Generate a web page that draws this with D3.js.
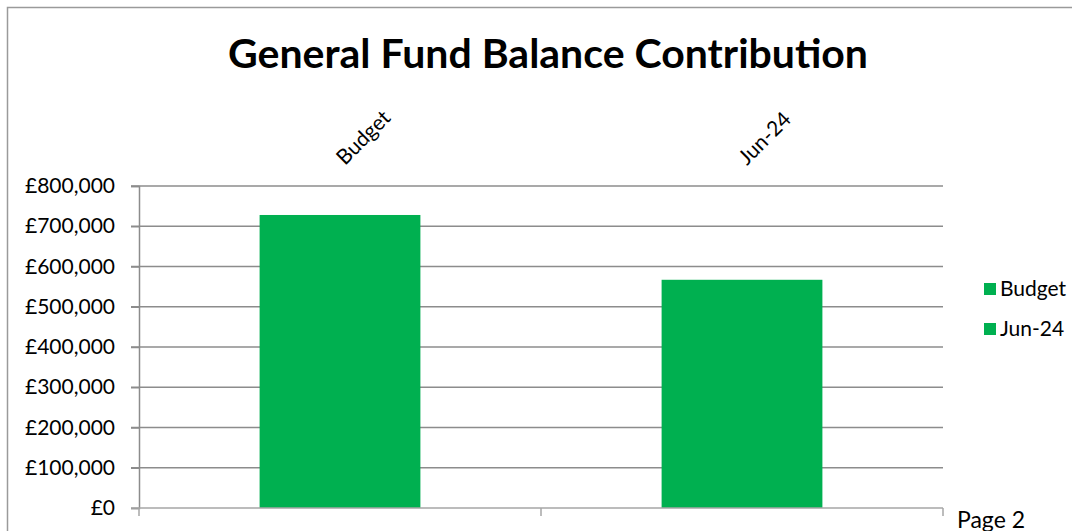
<!DOCTYPE html>
<html>
<head>
<meta charset="utf-8">
<script src="https://cdn.jsdelivr.net/npm/d3@7"></script>
<style>
  html, body { margin: 0; padding: 0; background: #fff; }
  svg { display: block; font-family: Lato, "Open Sans", sans-serif; }
</style>
</head>
<body>
<svg id="chart" width="1072" height="531"></svg>
<script>
// Chart data
const categories = ["Budget", "Jun-24"];
const values = [728000, 567000];
const yTicks = [0, 100000, 200000, 300000, 400000, 500000, 600000, 700000, 800000];
const legendLabels = ["Budget", "Jun-24"];
const titleText = "General Fund Balance Contribution";
const footerText = "Page 2";

const svg = d3.select("#chart");
const W = 1072, H = 531;
const plot = { left: 139, right: 943, top: 186, bottom: 508 };
const green = "#00b050";
const axisGrey = "#8c8c8c";

// Outer chart frame (top and left edges visible)
svg.append("path")
  .attr("d", `M7.5,${H + 2} V7.5 H${W + 2}`)
  .attr("fill", "none")
  .attr("stroke", "#9a9a9a")
  .attr("stroke-width", 1.5);

const x = d3.scaleBand().domain(categories).range([plot.left, plot.right]).paddingInner(0).paddingOuter(0);
const y = d3.scaleLinear().domain([0, 800000]).range([plot.bottom, plot.top]);

// Gridlines
svg.append("g")
  .selectAll("line")
  .data(yTicks.filter(d => d > 0))
  .join("line")
  .attr("x1", plot.left - 8)
  .attr("x2", plot.right)
  .attr("y1", d => y(d))
  .attr("y2", d => y(d))
  .attr("stroke", axisGrey)
  .attr("stroke-width", 1.5);

// Y axis
const yAxis = d3.axisLeft(y)
  .tickValues(yTicks)
  .tickSize(8)
  .tickPadding(16)
  .tickFormat(d => "£" + d3.format(",")(d));
const gy = svg.append("g").attr("transform", `translate(${plot.left},0)`).call(yAxis);
gy.select(".domain").attr("stroke", axisGrey).attr("stroke-width", 1.5);
gy.selectAll(".tick line").attr("stroke", axisGrey).attr("stroke-width", 1.5);
gy.selectAll(".tick text")
  .attr("font-family", "Lato, sans-serif")
  .attr("font-size", 21)
  .attr("fill", "#000");

// Bars
const barW = x.bandwidth() * 0.4;
svg.append("g")
  .selectAll("rect")
  .data(categories.map((c, i) => ({ c, v: values[i] })))
  .join("rect")
  .attr("x", d => x(d.c) + (x.bandwidth() - barW) / 2)
  .attr("width", barW)
  .attr("y", d => y(d.v))
  .attr("height", d => y(0) - y(d.v))
  .attr("fill", green);

// X axis (baseline with tick marks at band boundaries)
const xb = svg.append("g");
xb.append("line")
  .attr("x1", plot.left - 8).attr("x2", plot.right)
  .attr("y1", plot.bottom).attr("y2", plot.bottom)
  .attr("stroke", "#a6a6a6").attr("stroke-width", 1.5);
const boundaries = [plot.left, ...categories.map(c => x(c) + x.bandwidth())];
xb.selectAll("line.tk")
  .data(boundaries)
  .join("line")
  .attr("class", "tk")
  .attr("x1", d => d).attr("x2", d => d)
  .attr("y1", plot.bottom).attr("y2", plot.bottom + 8)
  .attr("stroke", "#a6a6a6").attr("stroke-width", 1.5);

// Category labels above the plot, rotated
svg.append("g")
  .selectAll("text")
  .data(categories)
  .join("text")
  .attr("transform", d => `translate(${x(d) + x.bandwidth() / 2 + 5},166) rotate(-45)`)
  .attr("text-anchor", "start")
  .attr("font-size", 21)
  .attr("fill", "#000")
  .text(d => d);

// Title
svg.append("text")
  .attr("x", 548)
  .attr("y", 68)
  .attr("text-anchor", "middle")
  .attr("font-size", 41)
  .attr("font-weight", 700)
  .attr("fill", "#000")
  .text(titleText);

// Legend
const lg = svg.append("g");
legendLabels.forEach((lab, i) => {
  const ly = 289 + i * 40;
  lg.append("rect")
    .attr("x", 984).attr("y", ly - 6)
    .attr("width", 12).attr("height", 12)
    .attr("fill", green);
  lg.append("text")
    .attr("x", 1000).attr("y", ly + 7)
    .attr("font-size", 21)
    .attr("fill", "#000")
    .text(lab);
});

// Page footer
svg.append("text")
  .attr("x", 957).attr("y", 528)
  .attr("font-size", 23)
  .attr("fill", "#000")
  .text(footerText);
</script>
</body>
</html>
